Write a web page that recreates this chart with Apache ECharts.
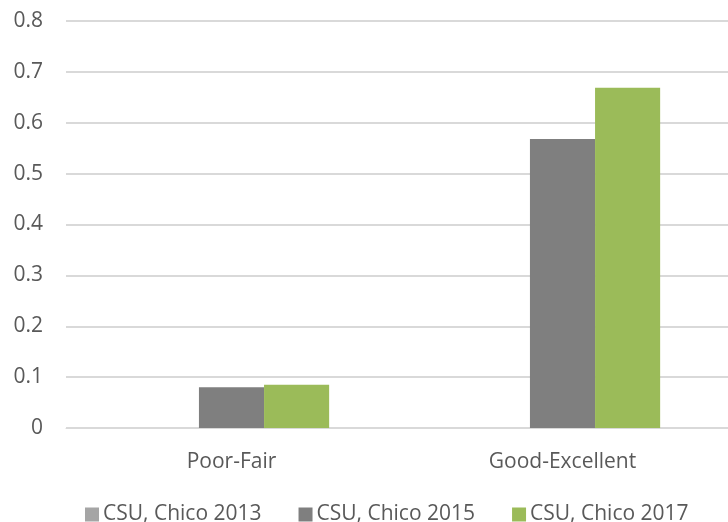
<!DOCTYPE html>
<html>
<head>
<meta charset="utf-8">
<script src="https://cdn.jsdelivr.net/npm/echarts@6/dist/echarts.min.js"></script>
<style>
  html, body {margin:0; padding:0; background:#fff;}
  #chart {width:728px; height:522px;}
</style>
</head>
<body>
<div id="chart"></div>
<script>
const categories = ["Poor-Fair", "Good-Excellent"];
const seriesNames = ["CSU, Chico 2013", "CSU, Chico 2015", "CSU, Chico 2017"];
const values2013 = [0, 0];
const values2015 = [0.08, 0.568];
const values2017 = [0.085, 0.669];
const colors = ["#A5A5A5", "#7F7F7F", "#9BBB59"];

const font = "'Open Sans', 'Liberation Sans', sans-serif";
const textColor = "#595959";

let chart = echarts.init(document.getElementById("chart"));
let data = [values2013, values2015, values2017];

chart.setOption({
    backgroundColor: "#fff",
    animation: false,
    grid: {left: 66, right: 0, top: 21, bottom: 94},
    legend: {
        top: 499,
        left: 80,
        itemWidth: 14,
        itemHeight: 14,
        itemGap: 37,
        icon: "rect",
        textStyle: {color: textColor, fontSize: 21, fontFamily: font, padding: [0, 0, 0, -1]},
        data: seriesNames
    },
    xAxis: {
        type: "category",
        data: categories,
        axisLine: {lineStyle: {color: "#D9D9D9", width: 1}},
        axisTick: {show: false},
        axisLabel: {color: textColor, fontSize: 21, fontFamily: font, margin: 24}
    },
    yAxis: {
        type: "value",
        min: 0,
        max: 0.8,
        interval: 0.1,
        axisLine: {show: false},
        axisTick: {show: false},
        splitLine: {lineStyle: {color: "#D9D9D9", width: 2}},
        axisLabel: {
            color: textColor, fontSize: 21, fontFamily: font, margin: 23,
            formatter: v => v === 0 ? "0" : v.toFixed(1)
        }
    },
    series: seriesNames.map((name, i) => ({
        name: name,
        type: "bar",
        data: data[i],
        barGap: "0%",
        barCategoryGap: "41%",
        itemStyle: {color: colors[i]}
    }))
});
</script>
</body>
</html>
